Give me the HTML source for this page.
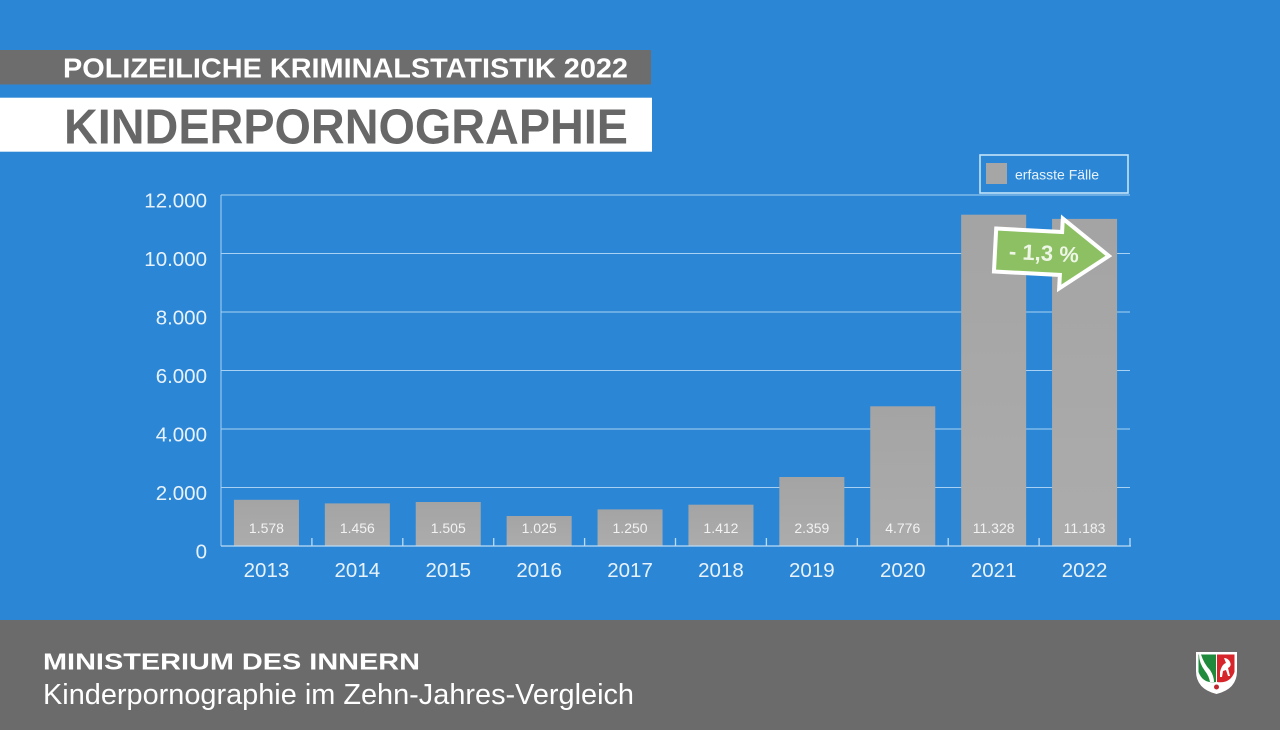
<!DOCTYPE html>
<html><head><meta charset="utf-8"><style>
html,body{margin:0;padding:0;background:#2b87d6;}
svg{display:block;}
text{font-family:"Liberation Sans",sans-serif;}
</style></head><body>
<svg width="1280" height="730" viewBox="0 0 1280 730" xmlns="http://www.w3.org/2000/svg">
<defs>
<linearGradient id="bg" x1="0" y1="0" x2="0" y2="1">
<stop offset="0" stop-color="#a4a4a4"/><stop offset="1" stop-color="#acacac"/>
</linearGradient>
</defs>
<rect x="0" y="0" width="1280" height="730" fill="#2b87d6"/>
<!-- title bars -->
<rect x="0" y="50" width="651" height="34.5" fill="#6d6d6d"/>
<text x="63" y="77.7" font-size="27.5" font-weight="bold" fill="#ffffff" textLength="565" lengthAdjust="spacingAndGlyphs">POLIZEILICHE KRIMINALSTATISTIK 2022</text>
<rect x="0" y="97.7" width="652" height="54" fill="#ffffff"/>
<text x="64" y="143.5" font-size="49" font-weight="bold" fill="#676767" textLength="564" lengthAdjust="spacingAndGlyphs">KINDERPORNOGRAPHIE</text>

<!-- gridlines -->
<g stroke="#a8d0f2" stroke-width="1">
<line x1="221" y1="195" x2="1130" y2="195"/>
<line x1="221" y1="253.5" x2="1130" y2="253.5"/>
<line x1="221" y1="312" x2="1130" y2="312"/>
<line x1="221" y1="370.5" x2="1130" y2="370.5"/>
<line x1="221" y1="429" x2="1130" y2="429"/>
<line x1="221" y1="487.5" x2="1130" y2="487.5"/>
<line x1="221" y1="195" x2="221" y2="546"/>
</g>
<!-- y labels -->
<g font-size="20.5" fill="#e8f2fb" text-anchor="end">
<text x="207" y="207.5">12.000</text>
<text x="207" y="266">10.000</text>
<text x="207" y="324.5">8.000</text>
<text x="207" y="383">6.000</text>
<text x="207" y="441.5">4.000</text>
<text x="207" y="500">2.000</text>
<text x="207" y="558.5">0</text>
</g>
<!-- bars -->
<g fill="url(#bg)">
<rect x="233.95" y="499.8" width="65" height="46.2"/>
<rect x="324.85" y="503.4" width="65" height="42.6"/>
<rect x="415.75" y="502.0" width="65" height="44.0"/>
<rect x="506.65" y="516.0" width="65" height="30.0"/>
<rect x="597.55" y="509.4" width="65" height="36.6"/>
<rect x="688.45" y="504.7" width="65" height="41.3"/>
<rect x="779.35" y="477.0" width="65" height="69.0"/>
<rect x="870.25" y="406.3" width="65" height="139.7"/>
<rect x="961.15" y="214.7" width="65" height="331.3"/>
<rect x="1052.05" y="218.9" width="65" height="327.1"/>
</g>
<!-- value labels -->
<g font-size="14" fill="#f2f2f2" text-anchor="middle">
<text x="266.45" y="533">1.578</text>
<text x="357.35" y="533">1.456</text>
<text x="448.25" y="533">1.505</text>
<text x="539.15" y="533">1.025</text>
<text x="630.05" y="533">1.250</text>
<text x="720.95" y="533">1.412</text>
<text x="811.85" y="533">2.359</text>
<text x="902.75" y="533">4.776</text>
<text x="993.65" y="533">11.328</text>
<text x="1084.55" y="533">11.183</text>
</g>
<!-- axis -->
<g stroke="#bcdcf6" stroke-width="1.3">
<line x1="221" y1="546" x2="1131" y2="546"/>
<line x1="311.9" y1="538" x2="311.9" y2="546"/>
<line x1="402.8" y1="538" x2="402.8" y2="546"/>
<line x1="493.7" y1="538" x2="493.7" y2="546"/>
<line x1="584.6" y1="538" x2="584.6" y2="546"/>
<line x1="675.5" y1="538" x2="675.5" y2="546"/>
<line x1="766.4" y1="538" x2="766.4" y2="546"/>
<line x1="857.3" y1="538" x2="857.3" y2="546"/>
<line x1="948.2" y1="538" x2="948.2" y2="546"/>
<line x1="1039.1" y1="538" x2="1039.1" y2="546"/>
<line x1="1130" y1="538" x2="1130" y2="546"/>
</g>
<!-- year labels -->
<g font-size="20.5" fill="#e8f2fb" text-anchor="middle">
<text x="266.45" y="577">2013</text>
<text x="357.35" y="577">2014</text>
<text x="448.25" y="577">2015</text>
<text x="539.15" y="577">2016</text>
<text x="630.05" y="577">2017</text>
<text x="720.95" y="577">2018</text>
<text x="811.85" y="577">2019</text>
<text x="902.75" y="577">2020</text>
<text x="993.65" y="577">2021</text>
<text x="1084.55" y="577">2022</text>
</g>
<!-- legend -->
<rect x="980" y="155" width="148" height="38" fill="none" stroke="#c2e2f9" stroke-width="1.6"/>
<rect x="986" y="163" width="21" height="21" fill="#a6a6a6"/>
<text x="1015" y="179.5" font-size="14" fill="#e8f2fb">erfasste Fälle</text>
<!-- arrow -->
<g transform="translate(1052,253) rotate(3)">
<polygon points="-57,-21.5 9,-21.5 9,-35 57,0 9,35 9,21.5 -57,21.5" fill="#8cc063" stroke="#ffffff" stroke-width="4" stroke-linejoin="miter"/>
<text x="-8" y="8" font-size="22" font-weight="bold" fill="#eef6e6" text-anchor="middle" textLength="70" lengthAdjust="spacingAndGlyphs">- 1,3 %</text>
</g>
<!-- footer -->
<rect x="0" y="620" width="1280" height="110" fill="#6b6b6b"/>
<text x="43" y="669.5" font-size="23.5" font-weight="bold" fill="#ffffff" textLength="377" lengthAdjust="spacingAndGlyphs">MINISTERIUM DES INNERN</text>
<text x="43" y="704" font-size="28.5" fill="#ffffff" textLength="591" lengthAdjust="spacingAndGlyphs">Kinderpornographie im Zehn-Jahres-Vergleich</text>
<!-- NRW shield -->
<path d="M1196,652 H1237 V671 Q1237,689 1216.5,694 Q1196,689 1196,671 Z" fill="#ffffff"/>
<path d="M1198.5,654.5 H1216 V682 Q1203,684 1198.5,672 Z" fill="#1f8a3c"/>
<path d="M1217,654.5 H1234.5 V672 Q1230,684 1217,682 Z" fill="#d7262b"/>
<path d="M1201,654.5 Q1204,664 1210,670 Q1214,676 1214,682 L1210,682 Q1209,676 1205,671 Q1199,663 1199,654.5 Z" fill="#ffffff"/>
<path d="M1220,672 Q1222,664 1226,663 L1224,658 Q1228,658 1230,662 Q1232,666 1228,668 L1230,676 L1228,676 L1226,670 L1223,671 L1222,677 L1220,677 Z" fill="#ffffff"/>
<circle cx="1216.5" cy="687" r="2.5" fill="#c0272d"/>
</svg>
</body></html>
